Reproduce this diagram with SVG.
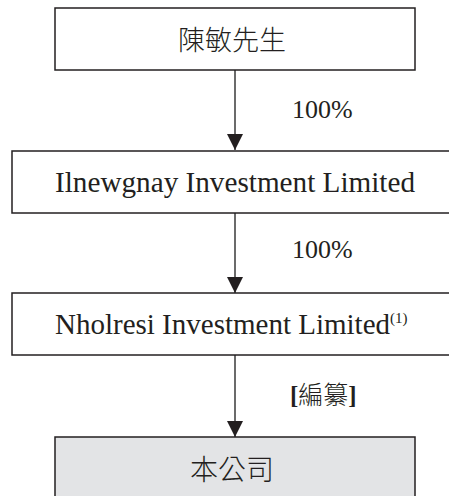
<svg xmlns="http://www.w3.org/2000/svg" width="449" height="496" viewBox="0 0 449 496">
<style>
.box{fill:#ffffff;stroke:#231f20;stroke-width:1.5}
.grey{fill:#e3e4e6}
.t{font-family:"Liberation Serif","Times New Roman",serif;fill:#231f20}
.cjk{font-family:"Noto Sans CJK TC","Noto Sans CJK SC",sans-serif;fill:#231f20;font-weight:300}
.line{stroke:#3a3a3a;stroke-width:1.5;fill:none}
</style>
<defs>
<marker id="ah" markerWidth="16" markerHeight="16" refX="16" refY="8" orient="auto" markerUnits="userSpaceOnUse">
<path d="M0,0 L16,8 L0,16 Z" fill="#231f20"/>
</marker>
</defs>
<rect width="449" height="496" fill="#ffffff"/>
<g id="connectors">
<line class="line" x1="235" y1="70" x2="235" y2="150" marker-end="url(#ah)"/>
<line class="line" x1="235" y1="213" x2="235" y2="293" marker-end="url(#ah)"/>
<line class="line" x1="235" y1="355" x2="235" y2="437" marker-end="url(#ah)"/>
<text class="t" x="292" y="118" font-size="26">100%</text>
<text class="t" x="292" y="258" font-size="26">100%</text>
<text x="290" y="404" font-size="25" font-weight="bold"><tspan class="t">[</tspan><tspan class="cjk" font-weight="bold">編纂</tspan><tspan class="t">]</tspan></text>
</g>
<g id="node-chen">
<rect class="box" x="55" y="8" width="360" height="62"/>
<text class="cjk" x="232" y="50" font-size="27" text-anchor="middle">陳敏先生</text>
</g>
<g id="node-ilnewgnay">
<rect class="box" x="12" y="151" width="440" height="62"/>
<text class="t" x="55" y="192" font-size="29" textLength="360" lengthAdjust="spacingAndGlyphs">Ilnewgnay Investment Limited</text>
</g>
<g id="node-nholresi">
<rect class="box" x="12" y="293" width="440" height="62"/>
<text class="t" x="55" y="334" font-size="29"><tspan textLength="335" lengthAdjust="spacingAndGlyphs">Nholresi Investment Limited</tspan><tspan font-size="15" dy="-11">(1)</tspan></text>
</g>
<g id="node-company">
<rect class="box grey" x="55" y="437" width="360" height="62"/>
<text class="cjk" x="232" y="480" font-size="28" text-anchor="middle">本公司</text>
</g>
</svg>
